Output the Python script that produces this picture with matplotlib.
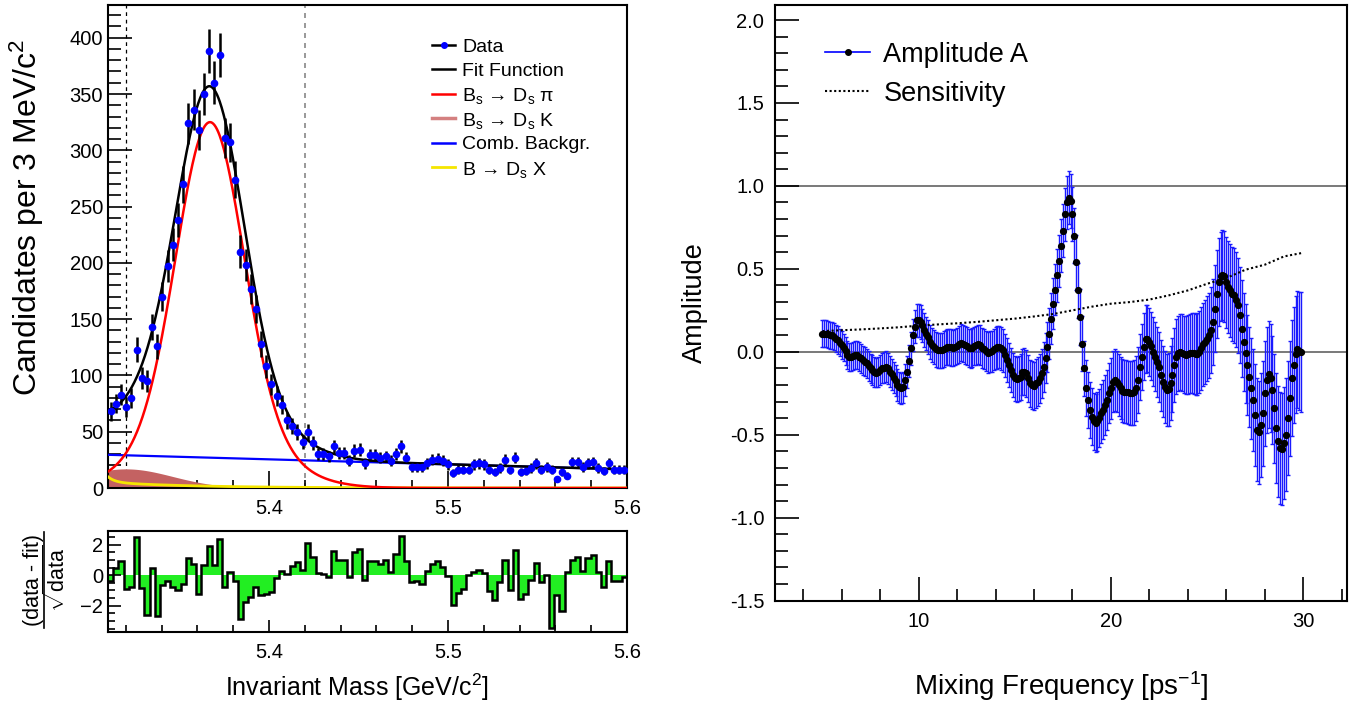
import numpy as np
import matplotlib.pyplot as plt
from matplotlib.lines import Line2D
from matplotlib.ticker import MultipleLocator

plt.rcParams['font.family'] = ['Liberation Sans', 'DejaVu Sans']
plt.rcParams['mathtext.fontset'] = 'custom'
plt.rcParams['mathtext.rm'] = 'Liberation Sans'
plt.rcParams['mathtext.it'] = 'Liberation Sans:italic'
plt.rcParams['mathtext.bf'] = 'Liberation Sans:bold'

# left panel: mass spectrum, 100 bins between 5.31 and 5.60 GeV
mass_lo, mass_hi, n_bins = 5.31, 5.60, 100
counts = [68, 75, 83, 72, 80, 123, 98, 95, 143, 126,
          170, 197, 216, 238, 270, 324, 336, 318, 350, 388,
          360, 385, 311, 307, 274, 210, 198, 177, 159, 128,
          108, 92, 82, 74, 60, 55, 50, 41, 50, 40,
          30, 30, 28, 37, 31, 31, 24, 33, 34, 22,
          29, 29, 27, 28, 24, 30, 37, 27, 19, 19,
          19, 22, 25, 26, 24, 21, 13, 16, 16, 16,
          21, 22, 21, 16, 14, 18, 25, 16, 27, 14,
          15, 18, 22, 16, 19, 16, 8, 14, 11, 23,
          23, 19, 22, 23, 18, 15, 22, 16, 16, 16]

# pull per bin, (data - fit)/sqrt(data)
pulls = [-0.35, 0.45, 0.95, -0.9, -0.8, 2.5, -0.85, -2.6, 0.5, -2.7,
         -0.65, -0.4, -0.8, -1.0, -0.6, 1.15, 0.75, -1.2, 0.65, 1.9,
         0.65, 2.35, -0.8, 0.2, -0.35, -2.9, -1.75, -1.45, -0.8, -1.3,
         -1.25, -1.1, -0.2, 0.3, 0.1, 0.6, 0.9, 0.35, 2.1, 1.2,
         0.15, 0.1, -0.1, 1.6, 1.0, 1.0, -0.1, 1.55, 1.75, -0.3,
         0.95, 0.95, 0.75, 1.0, 0.2, 1.4, 2.55, 0.95, -0.45, -0.4,
         -0.55, 0.3, 0.75, 0.95, 0.55, -0.05, -1.95, -1.15, -0.9, 0.0,
         0.2, 0.35, 0.15, -1.05, -1.65, -0.45, 1.0, -0.95, 1.65, -1.55,
         -1.25, -0.3, 0.8, -0.45, 0.0, -3.45, -1.3, -2.35, 0.2, 1.0,
         1.2, 0.3, 1.1, 1.3, 0.2, -0.8, 0.95, -0.4, -0.4, -0.1]

# fit components (parameters)
sig_mean = 5.367
sig_core = (265.0, 0.0185)     # amplitude, width
sig_tail = (60.0, 0.032)
dsk_par = (17.0, 5.320, 0.026)  # amplitude, mean, width
comb_lo, comb_hi = 29.5, 16.5   # linear background at the range ends
dsx_front = (5.0, 0.004)        # amplitude, decay length
dsx_tail = (5.0, 0.05)
window = [5.32, 5.42]

# right panel: amplitude scan
freq = np.round(5.0 + 0.1 * np.arange(250), 1)
amplitude = [
    0.110, 0.110, 0.110, 0.105, 0.100, 0.100, 0.090, 0.080, 0.070, 0.055,
    0.040, 0.025, 0.005, -0.020, -0.030, -0.030, -0.025, -0.020, -0.020, -0.030,
    -0.040, -0.050, -0.060, -0.070, -0.085, -0.100, -0.110, -0.120, -0.125, -0.120,
    -0.110, -0.100, -0.095, -0.090, -0.100, -0.120, -0.135, -0.155, -0.175, -0.200,
    -0.215, -0.220, -0.215, -0.170, -0.120, -0.055, 0.020, 0.100, 0.150, 0.190,
    0.190, 0.180, 0.160, 0.130, 0.110, 0.090, 0.060, 0.040, 0.030, 0.015,
    0.010, 0.008, 0.010, 0.018, 0.025, 0.028, 0.028, 0.026, 0.024, 0.028,
    0.035, 0.045, 0.055, 0.050, 0.040, 0.035, 0.025, 0.020, 0.025, 0.035,
    0.040, 0.045, 0.040, 0.025, 0.015, 0.005, -0.006, 0.000, 0.004, 0.015,
    0.022, 0.026, 0.028, 0.020, 0.010, -0.020, -0.050, -0.080, -0.110, -0.140,
    -0.160, -0.165, -0.160, -0.150, -0.120, -0.120, -0.130, -0.160, -0.190, -0.200,
    -0.205, -0.190, -0.180, -0.160, -0.130, -0.090, -0.040, 0.030, 0.110, 0.200,
    0.290, 0.375, 0.460, 0.550, 0.640, 0.730, 0.830, 0.900, 0.930, 0.910,
    0.830, 0.700, 0.540, 0.370, 0.210, 0.050, -0.100, -0.220, -0.290, -0.350,
    -0.390, -0.420, -0.430, -0.420, -0.400, -0.370, -0.350, -0.320, -0.290, -0.250,
    -0.220, -0.180, -0.170, -0.180, -0.200, -0.220, -0.235, -0.240, -0.240, -0.245,
    -0.250, -0.250, -0.245, -0.220, -0.170, -0.090, -0.030, 0.030, 0.077, 0.080,
    0.060, 0.035, 0.000, -0.030, -0.060, -0.090, -0.140, -0.180, -0.210, -0.230,
    -0.225, -0.190, -0.140, -0.080, -0.030, -0.010, 0.000, -0.005, -0.015, -0.020,
    -0.015, -0.010, -0.006, -0.010, -0.016, -0.012, 0.000, 0.020, 0.045, 0.060,
    0.080, 0.100, 0.130, 0.180, 0.260, 0.350, 0.420, 0.455, 0.465, 0.455,
    0.420, 0.390, 0.370, 0.350, 0.340, 0.315, 0.280, 0.220, 0.140, 0.060,
    -0.010, -0.080, -0.150, -0.220, -0.290, -0.380, -0.470, -0.485, -0.440, -0.370,
    -0.250, -0.170, -0.135, -0.160, -0.230, -0.340, -0.460, -0.540, -0.580, -0.585,
    -0.550, -0.500, -0.400, -0.280, -0.160, -0.080, -0.015, 0.014, 0.005, 0.000]
amp_err = [
    0.080, 0.080, 0.081, 0.081, 0.081, 0.082, 0.082, 0.082, 0.083, 0.083,
    0.083, 0.083, 0.084, 0.084, 0.085, 0.085, 0.085, 0.086, 0.086, 0.087,
    0.087, 0.087, 0.088, 0.088, 0.089, 0.089, 0.089, 0.090, 0.090, 0.091,
    0.091, 0.091, 0.092, 0.092, 0.093, 0.093, 0.093, 0.094, 0.094, 0.095,
    0.095, 0.095, 0.096, 0.096, 0.097, 0.097, 0.098, 0.098, 0.099, 0.099,
    0.100, 0.100, 0.101, 0.101, 0.102, 0.102, 0.103, 0.103, 0.104, 0.104,
    0.105, 0.106, 0.106, 0.107, 0.107, 0.108, 0.109, 0.109, 0.110, 0.110,
    0.111, 0.112, 0.112, 0.113, 0.114, 0.114, 0.115, 0.116, 0.116, 0.117,
    0.118, 0.119, 0.119, 0.120, 0.121, 0.122, 0.123, 0.123, 0.124, 0.125,
    0.126, 0.127, 0.128, 0.129, 0.129, 0.130, 0.131, 0.132, 0.133, 0.134,
    0.135, 0.136, 0.137, 0.138, 0.139, 0.140, 0.141, 0.142, 0.143, 0.144,
    0.145, 0.146, 0.147, 0.148, 0.149, 0.150, 0.151, 0.152, 0.153, 0.154,
    0.155, 0.156, 0.157, 0.157, 0.158, 0.159, 0.160, 0.161, 0.161, 0.162,
    0.163, 0.164, 0.165, 0.166, 0.167, 0.167, 0.168, 0.169, 0.170, 0.171,
    0.172, 0.173, 0.174, 0.175, 0.176, 0.177, 0.178, 0.179, 0.180, 0.181,
    0.182, 0.183, 0.184, 0.185, 0.186, 0.187, 0.189, 0.190, 0.191, 0.192,
    0.193, 0.194, 0.195, 0.197, 0.198, 0.199, 0.200, 0.201, 0.203, 0.204,
    0.205, 0.206, 0.208, 0.209, 0.211, 0.212, 0.214, 0.215, 0.217, 0.218,
    0.220, 0.222, 0.223, 0.225, 0.227, 0.228, 0.230, 0.232, 0.233, 0.235,
    0.237, 0.239, 0.241, 0.242, 0.244, 0.246, 0.248, 0.250, 0.251, 0.253,
    0.255, 0.257, 0.259, 0.261, 0.263, 0.265, 0.267, 0.269, 0.271, 0.273,
    0.275, 0.277, 0.279, 0.282, 0.284, 0.286, 0.288, 0.290, 0.293, 0.295,
    0.297, 0.299, 0.301, 0.303, 0.305, 0.307, 0.310, 0.312, 0.314, 0.316,
    0.318, 0.320, 0.322, 0.325, 0.327, 0.329, 0.331, 0.333, 0.336, 0.338,
    0.340, 0.342, 0.344, 0.347, 0.349, 0.351, 0.353, 0.355, 0.358, 0.360]
sens_freq = [5, 6, 7, 8, 9, 10, 11, 12, 13, 14, 15, 16, 17, 18, 19, 20,
             21, 22, 23, 24, 25, 26, 27, 28, 29, 29.9]
sensitivity = [0.125, 0.130, 0.135, 0.141, 0.148, 0.158, 0.165, 0.172,
               0.180, 0.190, 0.200, 0.213, 0.228, 0.250, 0.272, 0.290,
               0.300, 0.315, 0.340, 0.370, 0.410, 0.445, 0.495, 0.525,
               0.575, 0.595]

RED, BLUE, YELLOW, BROWN = '#ff0000', '#0000ff', '#f5e600', '#c46262'
DOTTED = (0, (1, 1.2))
W, H = 1360.0, 705.0   # canvas in pixels, used for hand placed texts


def legend_row(ax, y, x0, x1, xt, label, size, style, marker=None):
    """one hand-placed legend row, coordinates in axes fractions"""
    ax.plot([x0, x1], [y, y], transform=ax.transAxes, clip_on=False, **style)
    if marker is not None:
        ax.plot([0.5 * (x0 + x1)], [y], transform=ax.transAxes, clip_on=False,
                ls='none', marker='o', **marker)
    ax.text(xt, y, label, transform=ax.transAxes, fontsize=size,
            ha='left', va='center_baseline')


###############################################################################
fig = plt.figure(figsize=(13.6, 7.05), dpi=100)
ax1 = fig.add_axes([0.0794, 0.3078, 0.3816, 0.6850])
axr = fig.add_axes([0.0794, 0.1040, 0.3816, 0.1428])
ax2 = fig.add_axes([0.5701, 0.1480, 0.4207, 0.8448])

edges = np.linspace(mass_lo, mass_hi, n_bins + 1)
centers = 0.5 * (edges[1:] + edges[:-1])
counts = np.array(counts, dtype=float)

m = np.linspace(mass_lo, mass_hi, 800)
signal = (sig_core[0] * np.exp(-0.5 * ((m - sig_mean) / sig_core[1])**2)
          + sig_tail[0] * np.exp(-0.5 * ((m - sig_mean) / sig_tail[1])**2))
dsk = dsk_par[0] * np.exp(-0.5 * ((m - dsk_par[1]) / dsk_par[2])**2)
comb = comb_lo + (comb_hi - comb_lo) * (m - mass_lo) / (mass_hi - mass_lo)
dsx = (dsx_front[0] * np.exp(-(m - mass_lo) / dsx_front[1])
       + dsx_tail[0] * np.exp(-(m - mass_lo) / dsx_tail[1]))
total = signal + dsk + comb + dsx

# top left: mass fit
ax1.axvline(window[0], color='black', ls=(0, (3, 3)), lw=0.9, zorder=1)
ax1.axvline(window[1], color='#888888', ls=(0, (3, 3)), lw=1.2, zorder=1)
ax1.fill_between(m, 0, dsk, color=BROWN, lw=0, zorder=2)
ax1.plot(m, dsx, color=YELLOW, lw=2, zorder=3)
ax1.plot(m, comb, color=BLUE, lw=1.6, zorder=3)
ax1.plot(m, signal, color=RED, lw=1.8, zorder=3)
ax1.plot(m, total, color='black', lw=1.8, zorder=4)
ax1.errorbar(centers, counts, yerr=np.sqrt(counts), fmt='o', ms=4.5,
             mfc=BLUE, mec=BLUE, ecolor='black', elinewidth=1.8, capsize=0,
             zorder=5)
ax1.set_xlim(mass_lo, mass_hi)
ax1.set_ylim(0, 429)
ax1.set_ylabel('Candidates per 3 MeV/c$^{2}$', fontsize=23)
ax1.yaxis.set_label_coords(-0.12, 0.56)
ax1.yaxis.set_major_locator(MultipleLocator(50))
ax1.yaxis.set_minor_locator(MultipleLocator(10))
ax1.xaxis.set_major_locator(MultipleLocator(0.1))
ax1.xaxis.set_minor_locator(MultipleLocator(0.02))

leg_entries = [
    ('Data', dict(color='black', lw=1.8), dict(ms=4, mfc=BLUE, mec=BLUE)),
    ('Fit Function', dict(color='black', lw=1.8), None),
    ('B$_\\mathrm{s}$ → D$_\\mathrm{s}$ π', dict(color=RED, lw=1.8), None),
    ('B$_\\mathrm{s}$ → D$_\\mathrm{s}$ K', dict(color='#d48080', lw=2.5), None),
    ('Comb. Backgr.', dict(color=BLUE, lw=1.8), None),
    ('B → D$_\\mathrm{s}$ X', dict(color=YELLOW, lw=2), None)]
for i, (lab, style, mk) in enumerate(leg_entries):
    y = 1 - (40 + 24.4 * i) / 483.0
    legend_row(ax1, y, 0.624, 0.669, 0.682, lab, 14, style, mk)

# bottom left: pulls
axr.stairs(pulls, edges, baseline=0, fill=True, color='#22ee22', lw=0)
axr.stairs(pulls, edges, baseline=None, color='black', lw=1.8)
axr.set_xlim(mass_lo, mass_hi)
axr.set_ylim(-3.7, 2.9)
axr.yaxis.set_major_locator(MultipleLocator(2))
axr.yaxis.set_minor_locator(MultipleLocator(0.5))
axr.xaxis.set_major_locator(MultipleLocator(0.1))
axr.xaxis.set_minor_locator(MultipleLocator(0.02))
axr.set_xlabel('Invariant Mass [GeV/c$^{2}$]', fontsize=18)
axr.xaxis.set_label_coords(0.48, -0.40)

# pull axis title drawn as a fraction: numerator, bar, denominator
fig.text(33 / W, 1 - 580 / H, '(data - fit)', rotation=90, fontsize=15.5,
         ha='center', va='center')
fig.add_artist(Line2D([44 / W, 44 / W], [1 - 628 / H, 1 - 532 / H],
                      color='black', lw=1.2))
fig.text(57 / W, 1 - 578 / H, r'$\sqrt{\mathrm{data}}$', rotation=90,
         fontsize=15.5, ha='center', va='center')

# right: amplitude scan
ax2.axhline(0, color='#555555', lw=1.1, zorder=1)
ax2.axhline(1, color='#555555', lw=1.1, zorder=1)
ax2.errorbar(freq, amplitude, yerr=amp_err, fmt='none', ecolor='#1a1aff',
             elinewidth=1.0, capsize=1.6, capthick=1.0, zorder=2)
ax2.plot(freq, amplitude, 'o', color='black', ms=4.2, zorder=3)
ax2.plot(sens_freq, sensitivity, color='black', ls=DOTTED, lw=1.5, zorder=3)
ax2.set_xlim(2.55, 32.3)
ax2.set_ylim(-1.5, 2.09)
ax2.xaxis.set_major_locator(MultipleLocator(10))
ax2.xaxis.set_minor_locator(MultipleLocator(2))
ax2.yaxis.set_major_locator(MultipleLocator(0.5))
ax2.yaxis.set_minor_locator(MultipleLocator(0.1))
ax2.yaxis.set_major_formatter(lambda v, p: '%.1f' % v)
ax2.set_xlabel('Mixing Frequency [ps$^{-1}$]', fontsize=20)
ax2.xaxis.set_label_coords(0.5, -0.115)
ax2.set_ylabel('Amplitude', fontsize=19.5)
ax2.yaxis.set_label_coords(-0.118, 0.5)
legend_row(ax2, 1 - 47 / 595.6, 0.087, 0.166, 0.189, 'Amplitude A', 19.5,
           dict(color=BLUE, lw=1.2), dict(ms=4, mfc='black', mec='black'))
legend_row(ax2, 1 - 86 / 595.6, 0.087, 0.166, 0.189, 'Sensitivity', 19.5,
           dict(color='black', ls=DOTTED, lw=1.5))

for ax in (ax1, axr, ax2):
    for s in ax.spines.values():
        s.set_linewidth(1.5)
    ax.tick_params(which='both', direction='in', top=False, right=False,
                   width=1.2, labelsize=14.5)
ax1.tick_params(which='major', length=17)
ax1.tick_params(which='minor', length=9)
ax1.tick_params(axis='x', which='major', length=12, pad=8)
ax1.tick_params(axis='x', which='minor', length=6)
axr.tick_params(which='major', length=9)
axr.tick_params(which='minor', length=5)
axr.tick_params(axis='x', pad=8)
ax2.tick_params(which='major', length=17, pad=8)
ax2.tick_params(which='minor', length=9)

fig.savefig('out.png', dpi=100)
